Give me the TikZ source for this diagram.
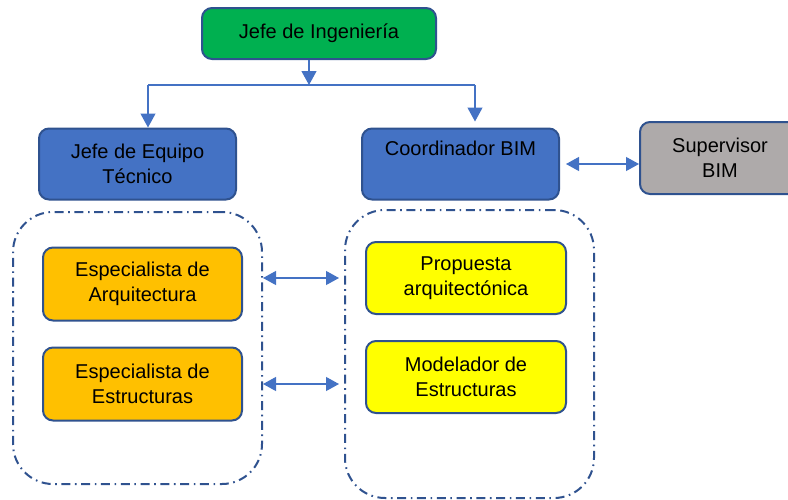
\documentclass[tikz,border=0pt]{standalone}
\usepackage{fontspec}
\setmainfont{Liberation Sans}
\usepackage{tikz}
\usetikzlibrary{positioning,arrows.meta}
\usepackage{xcolor}
\definecolor{bimEdge}{HTML}{2F528F}
\definecolor{bimBlue}{HTML}{4472C4}
\definecolor{bimGreen}{HTML}{00B050}
\definecolor{bimOrange}{HTML}{FFC000}
\definecolor{bimYellow}{HTML}{FFFF00}
\definecolor{bimGrey}{HTML}{AEAAAA}
\tikzset{
  rolebox/.style  = {rounded corners=5pt, draw=bimEdge, line width=1pt,
                     align=center, inner sep=2pt,
                     font=\fontsize{10}{12.5}\selectfont},
  headbox/.style  = {rolebox, fill=bimGreen, minimum width=117pt, minimum height=25.5pt},
  leadbox/.style  = {rolebox, fill=bimBlue, minimum width=98.5pt, minimum height=35.5pt},
  supbox/.style   = {rolebox, fill=bimGrey, minimum width=80pt, minimum height=36pt},
  specbox/.style  = {rolebox, fill=bimOrange, minimum width=99.5pt, minimum height=36.5pt},
  taskbox/.style  = {rolebox, fill=bimYellow, minimum width=100pt, minimum height=36pt},
  groupbox/.style = {rounded corners=20pt, draw=bimEdge, line width=1pt,
                     dash pattern=on 4.5pt off 2.3pt on 0.8pt off 2.3pt,
                     minimum width=124.5pt},
  wire/.style     = {line width=0.6pt, draw=bimBlue},
  link/.style     = {wire, -{Triangle[length=7pt, width=7.5pt]}},
  duo/.style      = {wire, {Triangle[length=6.5pt, width=7pt]}-{Triangle[length=6.5pt, width=7pt]}},
}
\begin{document}
\begin{tikzpicture}[x=0.5pt, y=-0.5pt, node distance=12.5pt]
  \useasboundingbox (0,0) rectangle (788,499);
  \clip (0,0) rectangle (788,499);

  % dash-dot groups
  \node[groupbox, minimum height=136pt] (grpL) at (137.5,348) {};
  \node[groupbox, minimum height=144pt] (grpR) at (469.5,354) {};

  % roles
  \node[headbox] (ing) at (319,33.5) {Jefe de Ingeniería};
  \node[leadbox] (jet) at (137.5,164) {Jefe de Equipo\\Técnico};
  \node[leadbox, right=62pt of jet] (coord) {Coordinador BIM\\\strut};
  \node[supbox, right=39.5pt of coord, yshift=3pt] (sup) {Supervisor\\BIM};

  \node[specbox] (espA) at (142.5,284) {Especialista de\\Arquitectura};
  \node[specbox, below=of espA] (espE) {Especialista de\\Estructuras};
  \node[taskbox] (prop) at (466,278) {Propuesta\\arquitectónica};
  \node[taskbox, below=of prop] (mod) {Modelador de\\Estructuras};

  % hierarchy
  \coordinate (split) at (309,85);
  \coordinate (busL) at (148,85);
  \coordinate (busR) at (475,85);
  \draw[link] (ing.south -| split) -- (split);
  \draw[wire] (busL) -- (busR);
  \draw[link] (busL) -- (busL |- jet.north);
  \draw[link, shorten >=3pt] (busR) -- (busR |- coord.north);

  % exchanges
  \draw[duo, shorten <=3pt] (coord.east) -- (coord.east -| sup.west);
  \draw[duo, shorten >=2.5pt] (grpL.east |- prop) -- (grpR.west |- prop);
  \draw[duo, shorten >=2.5pt] (grpL.east |- espE) -- (grpR.west |- espE);
\end{tikzpicture}
\end{document}
